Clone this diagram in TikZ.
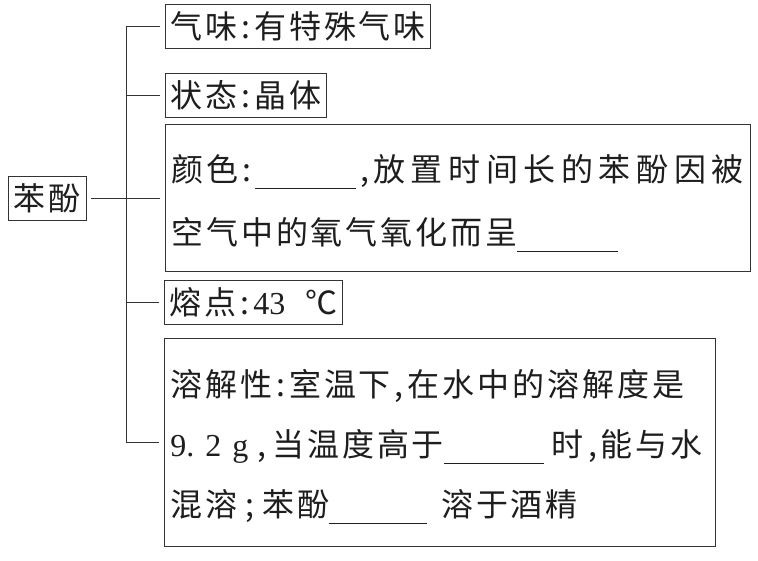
\documentclass[tikz,border=0pt]{standalone}
\usepackage{fontspec}
\newfontfamily\cjk[LetterSpace=9]{Noto Sans CJK SC}
\newfontfamily\cjkwide[LetterSpace=17.5]{Noto Sans CJK SC}
\newfontfamily\latf{Liberation Serif}
\newcommand\punc[1]{\makebox[17pt]{#1}}
\newcommand\gapline[1]{\rule[-7pt]{#1}{0.9pt}}
\newcommand\latn[1]{{\latf #1}}
\newcommand\boxline[2]{\makebox[0pt][l]{\rule[-8pt]{0pt}{#1}#2}}
\definecolor{linec}{HTML}{333333}
\definecolor{textc}{HTML}{1E1E1E}
\tikzset{
  box/.style={draw=linec, line width=0.9pt, inner xsep=5pt, inner ysep=0pt,
    font=\cjk\fontsize{32}{63}\selectfont, text=textc},
  onebox/.style={box, anchor=west, minimum height=44pt},
  conn/.style={draw=linec, line width=0.9pt, line cap=rect}
}
\begin{document}
\begin{tikzpicture}[x=1pt,y=-1pt]
\useasboundingbox[fill=white] (0,0) rectangle (758,560);
\node[box, minimum width=78pt, minimum height=44pt] (ben) at (47,198) {苯酚};
\node[onebox] (smell) at (165,26) {气味\punc{:}有特殊气味};
\node[onebox] (state) at (165,95) {状态\punc{:}晶体};
\node[box, anchor=north west, minimum width=585pt, minimum height=147pt,
  text width=573pt, align=left] (color) at (165,124)
  {\boxline{46pt}{颜色\punc{:}\gapline{101pt}\punc{,}{\cjkwide 放置时间长的苯酚因被}}\\
   \boxline{8pt}{空气中的氧气氧化而呈\gapline{101pt}}};
\node[onebox] (melt) at (164,302) {熔点\punc{:}\latn{43}\hspace{20pt}℃};
\node[box, anchor=north west, minimum width=551pt, minimum height=208pt,
  text width=539pt, align=left, font=\cjk\fontsize{32}{60}\selectfont] (sol) at (164,338)
  {\boxline{44pt}{溶解性\punc{:}室温下\punc{,}在水中的溶解度是}\\
   \boxline{8pt}{\makebox[35pt][l]{\latn{9.}}\makebox[27pt][l]{\latn{2}}\makebox[25pt][l]{\latn{g}}\makebox[15pt][l]{,}当温度高于\gapline{100pt}\hspace{8pt}时\punc{,}能与水}\\
   \boxline{8pt}{混溶\makebox[25pt]{;}苯酚\gapline{98pt}\hspace{14pt}溶于酒精}};
\coordinate (tTop) at (126,26);
\coordinate (tBot) at (126,442);
\draw[conn] (tTop) -- (tBot);
\draw[conn, shorten >=5pt] (tTop) -- (smell.west);
\draw[conn, shorten >=5pt] (tTop |- state.west) -- (state.west);
\draw[conn, shorten >=5pt] (tTop |- melt.west) -- (melt.west);
\draw[conn, shorten >=5pt] (tBot) -- (tBot -| sol.west);
\draw[conn, shorten <=5pt, shorten >=5pt] (ben.east) -- (ben.east -| color.west);
\end{tikzpicture}
\end{document}
